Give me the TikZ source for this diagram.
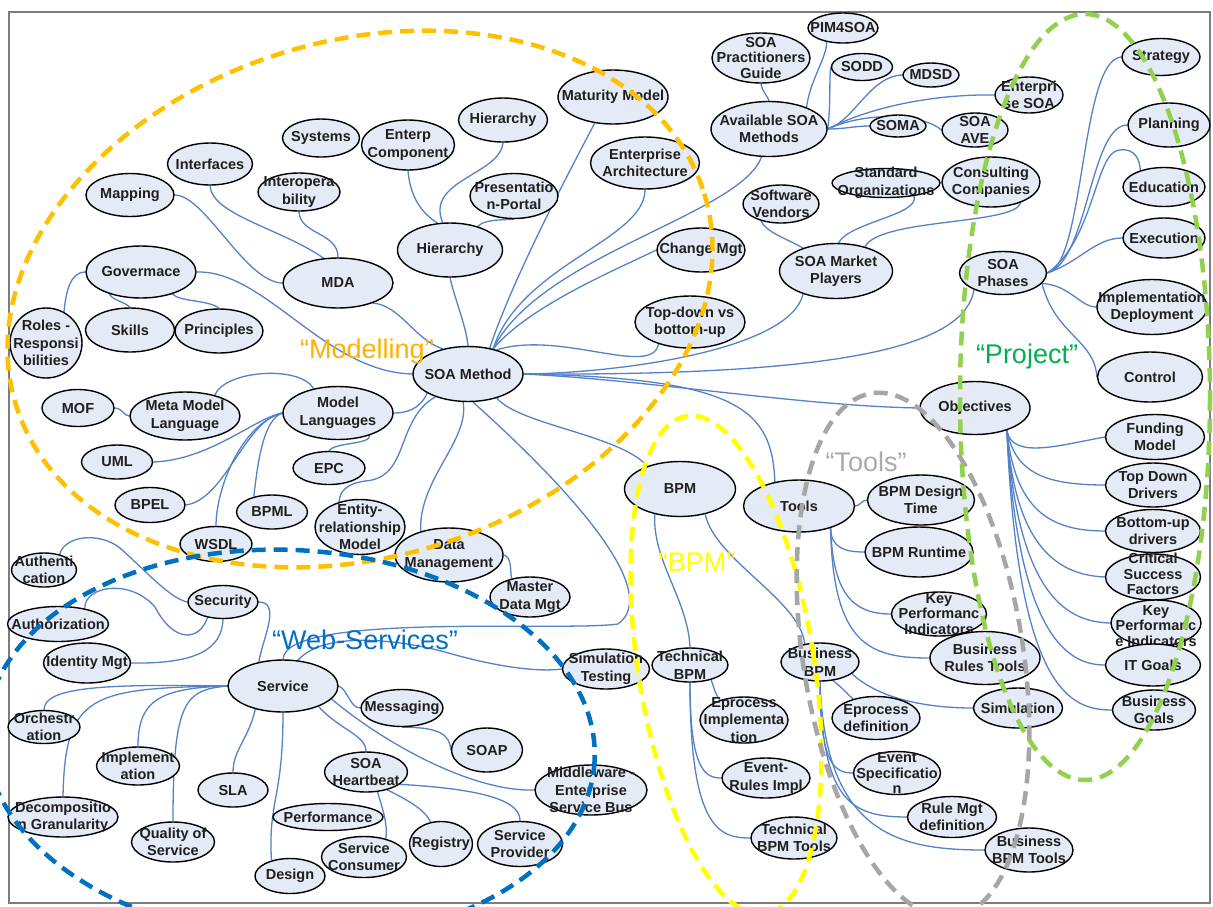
\documentclass[tikz,border=0pt]{standalone}
\usepackage{fontspec}
\setmainfont{Liberation Sans}
\usetikzlibrary{shapes.geometric}
\definecolor{bubblefill}{RGB}{228,235,246}
\definecolor{connblue}{RGB}{84,130,200}
\definecolor{zoneorange}{RGB}{255,192,0}
\definecolor{zoneblue}{RGB}{0,112,192}
\definecolor{zoneyellow}{RGB}{255,255,0}
\definecolor{zonegray}{RGB}{166,166,166}
\definecolor{zonegreen}{RGB}{146,208,80}
\definecolor{labelorange}{RGB}{255,176,0}
\definecolor{labelgreen}{RGB}{0,176,80}
\definecolor{labelgray}{RGB}{170,170,175}
\definecolor{framegray}{RGB}{125,125,125}
\pgfdeclarelayer{framelayer}
\pgfdeclarelayer{connlayer}
\pgfsetlayers{framelayer,connlayer,main}
% one topic: ellipse with fixed size, text set on top of it
\newcommand\bubble[6][]{%
  \node[bubble, minimum width=#4pt, minimum height=#5pt] (#2) at (#3) {};
  \node[bubtext,#1] (#2-t) at (#2.center) {#6};}
\begin{document}
\begin{tikzpicture}[x=1pt,y=-1pt,
  bubble/.style={ellipse, draw=black, line width=1.4pt, fill=bubblefill, inner sep=0pt},
  bubtext/.style={font=\bfseries\fontsize{14.5}{17.5}\selectfont, align=center, text=black!88, inner sep=0pt},
  tight/.style={font=\bfseries\fontsize{14.5}{15.5}\selectfont},
  conn/.style={draw=connblue, line width=1.3pt},
  zone/.style={line width=4.5pt, dash pattern=on 14pt off 8pt},
  zonelabel/.style={font=\fontsize{27}{30}\selectfont, inner sep=0pt},
  frameline/.style={draw=framegray, line width=2.5pt}]
\useasboundingbox (0,0) rectangle (1213,906);

\begin{pgfonlayer}{framelayer}
  \fill[white] (0,0) rectangle (1213,906);
  \draw[frameline] (9,12) rectangle (1210,903);
\end{pgfonlayer}

% ---------- modelling side ----------
\bubble{map}{130,195}{88}{43}{Mapping}
\bubble{intf}{210,164}{85}{42}{Interfaces}
\bubble{interop}{299,192}{82}{38}{Interopera\\bility}
\bubble{sys}{321,138}{77}{38}{Systems}
\bubble{entc}{408,145}{93}{50}{Enterp\\Component}
\bubble{hierA}{503,120}{89}{44}{Hierarchy}
\bubble{pres}{514,196}{88}{45}{Presentatio\\n-Portal}
\bubble{mat}{613,97}{110}{54}{Maturity Model}
\bubble{ea}{645,163}{109}{52}{Enterprise\\Architecture}
\bubble{hierB}{450,250}{105}{54}{Hierarchy}
\bubble{mda}{338,283}{110}{50}{MDA}
\bubble{chg}{701,250}{88}{44}{Change Mgt}
\bubble{topd}{690,322}{110}{52}{Top-down vs\\bottom-up}
\bubble{soam}{468,374}{110}{55}{SOA Method}
\bubble{gov}{141,272}{110}{52}{Govermace}
\bubble{roles}{46,343}{72}{70}{Roles -\\Responsi\\bilities}
\bubble{skills}{130,330}{89}{44}{Skills}
\bubble{princ}{219,331}{88}{44}{Principles}
\bubble{mof}{78,408}{72}{37}{MOF}
\bubble{meta}{185,416}{110}{48}{Meta Model\\Language}
\bubble{mlang}{338,413}{110}{53}{Model\\Languages}
\bubble{uml}{117,462}{71}{34}{UML}
\bubble{epc}{329,468}{72}{33}{EPC}
\bubble{bpel}{150,505}{70}{35}{BPEL}
\bubble{bpml}{272,512}{71}{34}{BPML}
\bubble{erm}{360,527}{90}{55}{Entity-\\relationship\\Model}
\bubble{wsdl}{216,544}{72}{35}{WSDL}
\bubble{dmgmt}{449,555}{108}{54}{Data\\Management}
\bubble{mdm}{530,597}{80}{40}{Master\\Data Mgt}

% ---------- web services ----------
\bubble{sec}{223,602}{70}{33}{Security}
\bubble{auth}{44,570}{65}{34}{Authenti\\cation}
\bubble{authz}{58,624}{101}{35}{Authorization}
\bubble{idm}{87,663}{87}{40}{Identity Mgt}
\bubble{serv}{283,686}{110}{52}{Service}
\bubble{orch}{44,727}{72}{33}{Orchestr\\ation}
\bubble{impl}{138,766}{83}{38}{Implement\\ation}
\bubble{sla}{233,790}{70}{34}{SLA}
\bubble{decomp}{63,817}{110}{40}{Decompositio\\n Granularity}
\bubble{qos}{173,842}{83}{40}{Quality of\\Service}
\bubble{hb}{366,772}{83}{40}{SOA\\Heartbeat}
\bubble{perf}{328,817}{110}{27}{Performance}
\bubble{design}{290,876}{70}{35}{Design}
\bubble{scons}{364,857}{85}{41}{Service\\Consumer}
\bubble{msg}{402,708}{82}{37}{Messaging}
\bubble{soap}{487,750}{71}{44}{SOAP}
\bubble{esb}{591,790}{112}{50}{Middleware -\\Enterprise\\Service Bus}
\bubble{reg}{441,844}{63}{45}{Registry}
\bubble{sprov}{520,844}{85}{45}{Service\\Provider}
\bubble{simt}{606,669}{87}{40}{Simulation\\Testing}

% ---------- BPM and tools ----------
\bubble{bpm}{680,489}{111}{55}{BPM}
\bubble{tbpm}{690,665}{76}{34}{Technical\\BPM}
\bubble{eimpl}{744,720}{88}{46}{Eprocess\\Implementa\\tion}
\bubble{erules}{766,778}{88}{40}{Event-\\Rules Impl}
\bubble{tbpmt}{794,838}{86}{42}{Technical\\BPM Tools}
\bubble{bbpm}{820,662}{78}{38}{Business\\BPM}
\bubble{tools}{799,506}{111}{52}{Tools}
\bubble{bdt}{921,500}{107}{50}{BPM Design\\Time}
\bubble{brt}{919,552}{108}{50}{BPM Runtime}
\bubble[tight]{kpiA}{939,614}{95}{44}{Key\\Performanc\\Indicators}
\bubble{brules}{985,658}{110}{53}{Business\\Rules Tools}
\bubble{sim}{1018,708}{89}{40}{Simulation}
\bubble{edef}{876,718}{88}{43}{Eprocess\\definition}
\bubble[tight]{espec}{897,773}{87}{43}{Event\\Specificatio\\n}
\bubble{rmgt}{952,817}{89}{41}{Rule Mgt\\definition}
\bubble{bbpmt}{1029,850}{88}{44}{Business\\BPM Tools}

% ---------- project side ----------
\bubble{obj}{975,408}{110}{53}{Objectives}
\bubble{ctrl}{1150,377}{105}{50}{Control}
\bubble{impd}{1152,307}{110}{55}{Implementation\\Deployment}
\bubble{fund}{1155,437}{99}{45}{Funding\\Model}
\bubble{tdd}{1153,485}{95}{44}{Top Down\\Drivers}
\bubble[tight,yshift=3pt]{csf}{1153,577}{95}{46}{Critical\\Success\\Factors}
\bubble{bud}{1153,531}{95}{43}{Bottom-up\\drivers}
\bubble[tight,yshift=-3pt]{kpiB}{1156,623}{90}{46}{Key\\Performanc\\e Indicators}
\bubble{itg}{1153,665}{95}{42}{IT Goals}
\bubble{bg}{1154,710}{83}{40}{Business\\Goals}
\bubble{phases}{1003,273}{87}{43}{SOA\\Phases}
\bubble{strat}{1161,57}{78}{37}{Strategy}
\bubble{plan}{1169,125}{82}{44}{Planning}
\bubble{edu}{1164,187}{82}{39}{Education}
\bubble{exec}{1164,238}{82}{40}{Execution}

% ---------- methods and market ----------
\bubble{pim}{843,28}{70}{30}{PIM4SOA}
\bubble[tight]{pract}{761,58}{98}{50}{SOA\\Practitioners\\Guide}
\bubble{sodd}{862,67}{61}{27}{SODD}
\bubble{mdsd}{931,75}{56}{24}{MDSD}
\bubble{esoa}{1029,95}{68}{36}{Enterpri\\se SOA}
\bubble{soma}{898,126}{56}{22}{SOMA}
\bubble{ave}{975,130}{66}{34}{SOA\\AVE}
\bubble{asm}{769,129}{116}{55}{Available SOA\\Methods}
\bubble{sv}{781,204}{76}{38}{Software\\Vendors}
\bubble{std}{886,183}{108}{29}{Standard\\Organizations}
\bubble{cons}{991,182}{98}{50}{Consulting\\Companies}
\bubble{mkt}{836,271}{113}{55}{SOA Market\\Players}

% ---------- connectors ----------
\begin{pgfonlayer}{connlayer}
  \coordinate (loopA) at (618,624);
  \coordinate (simtA) at (445,652);
  \coordinate (authA) at (120,548);
  \coordinate (authzA) at (155,607);
  \coordinate (eduA) at (1120,150);
  \coordinate (ermA) at (365,481);

  \draw[conn] (map.east) .. controls (205,195) and (245,282) .. (mda.west);
  \draw[conn] (intf.south) .. controls (212,215) and (280,228) .. (mda.120);
  \draw[conn] (interop.south) .. controls (300,235) and (338,232) .. (mda.north);
  \draw[conn] (gov.west) .. controls (70,272) and (66,292) .. (roles.60);
  \draw[conn] (gov.215) .. controls (112,300) and (125,302) .. (skills.north);
  \draw[conn] (gov.325) .. controls (180,302) and (210,300) .. (princ.north);
  \draw[conn] (gov.east) .. controls (265,270) and (325,372) .. (soam.west);
  \draw[conn] (mda.-30) .. controls (400,305) and (415,340) .. (soam.135);
  \draw[conn] (hierB.south) .. controls (455,300) and (466,325) .. (soam.north);
  \draw[conn] (entc.south) .. controls (410,195) and (420,212) .. (hierB.115);
  \draw[conn] (hierA.south) .. controls (500,175) and (425,180) .. (hierB.105);
  \draw[conn] (pres.south) .. controls (498,220) and (483,220) .. (hierB.40);
  \draw[conn] (mat.235) .. controls (570,170) and (512,280) .. (soam.50);
  \draw[conn] (ea.south) .. controls (645,240) and (520,265) .. (soam.45);
  \draw[conn] (asm.255) .. controls (740,215) and (540,255) .. (soam.45);
  \draw[conn] (chg.west) .. controls (620,268) and (530,305) .. (soam.45);
  \draw[conn] (topd.215) .. controls (652,378) and (560,330) .. (soam.40);
  \draw[conn] (mkt.215) .. controls (790,350) and (620,373) .. (soam.east);
  \draw[conn] (soam.east) .. controls (850,376) and (965,345) .. (phases.210);
  \draw[conn] (soam.east) .. controls (740,378) and (772,410) .. (tools.135);
  \draw[conn] (soam.east) .. controls (650,380) and (800,406) .. (obj.west);
  \draw[conn] (soam.-40) .. controls (520,425) and (620,435) .. (bpm.145);
  \draw[conn] (soam.-80) .. controls (560,480) and (665,590) .. (loopA)
              .. controls (560,632) and (285,612) .. (serv.north);
  \draw[conn] (soam.205) .. controls (420,410) and (405,413) .. (mlang.east);
  \draw[conn] (soam.215) .. controls (395,420) and (410,478) .. (ermA)
              .. controls (345,484) and (340,492) .. (erm.130);
  \draw[conn] (soam.-100) .. controls (470,440) and (418,480) .. (dmgmt.140);
  \draw[conn] (dmgmt.east) .. controls (512,557) and (510,570) .. (mdm.135);

  \draw[conn] (mof.east) .. controls (122,408) and (124,416) .. (meta.west);
  \draw[conn] (meta.35) .. controls (225,370) and (300,365) .. (mlang.135);
  \draw[conn] (mlang.west) .. controls (255,418) and (210,460) .. (uml.east);
  \draw[conn] (mlang.west) .. controls (245,420) and (225,500) .. (bpel.east);
  \draw[conn] (mlang.west) .. controls (240,425) and (216,490) .. (wsdl.north);
  \draw[conn] (mlang.west) .. controls (262,420) and (257,470) .. (bpml.140);
  \draw[conn] (mlang.-35) .. controls (370,445) and (335,442) .. (epc.north);

  \draw[conn] (sec.east) .. controls (282,602) and (262,640) .. (serv.135);
  \draw[conn] (auth.45) .. controls (65,535) and (100,532) .. (authA)
              .. controls (150,575) and (170,598) .. (sec.west);
  \draw[conn] (authz.30) .. controls (84,586) and (130,578) .. (authzA)
              .. controls (175,645) and (200,640) .. (sec.225);
  \draw[conn] (idm.east) .. controls (195,664) and (222,650) .. (sec.south);
  \draw[conn] (serv.west) .. controls (110,684) and (44,686) .. (orch.north);
  \draw[conn] (serv.west) .. controls (90,688) and (65,695) .. (decomp.north);
  \draw[conn] (serv.west) .. controls (160,688) and (138,700) .. (impl.north);
  \draw[conn] (serv.west) .. controls (185,690) and (173,700) .. (qos.north);
  \draw[conn] (serv.220) .. controls (248,740) and (233,750) .. (sla.north);
  \draw[conn] (serv.south) .. controls (283,800) and (268,800) .. (design.140);
  \draw[conn] (serv.-30) .. controls (340,730) and (366,735) .. (hb.north);
  \draw[conn] (serv.east) .. controls (348,690) and (350,708) .. (msg.west);
  \draw[conn] (msg.south) .. controls (440,727) and (450,735) .. (soap.west);
  \draw[conn] (serv.-15) .. controls (380,740) and (470,792) .. (esb.west);
  \draw[conn] (serv.60) .. controls (325,630) and (400,640) .. (simtA)
              .. controls (500,668) and (540,672) .. (simt.west);
  \draw[conn] (hb.-60) .. controls (383,810) and (388,825) .. (scons.40);
  \draw[conn] (hb.-40) .. controls (408,800) and (425,810) .. (reg.115);
  \draw[conn] (hb.-20) .. controls (500,790) and (520,805) .. (sprov.north);

  \draw[conn] (bpm.225) .. controls (652,560) and (688,600) .. (tbpm.north);
  \draw[conn] (bpm.-45) .. controls (715,560) and (800,600) .. (bbpm.130);
  \draw[conn] (tools.east) .. controls (860,506) and (862,500) .. (bdt.west);
  \draw[conn] (tools.-35) .. controls (831,548) and (845,552) .. (brt.west);
  \draw[conn] (tools.-35) .. controls (833,590) and (850,614) .. (kpiA.west);
  \draw[conn] (tools.-35) .. controls (833,645) and (870,658) .. (brules.west);
  \draw[conn] (bbpm.-20) .. controls (880,700) and (930,708) .. (sim.west);
  \draw[conn] (bbpm.-55) .. controls (845,690) and (850,697) .. (edef.140);
  \draw[conn] (bbpm.south) .. controls (820,765) and (835,773) .. (espec.west);
  \draw[conn] (bbpm.south) .. controls (822,800) and (850,817) .. (rmgt.west);
  \draw[conn] (bbpm.south) .. controls (825,835) and (900,850) .. (bbpmt.west);
  \draw[conn] (tbpm.-35) .. controls (714,688) and (716,696) .. (eimpl.140);
  \draw[conn] (tbpm.south) .. controls (690,770) and (705,778) .. (erules.west);
  \draw[conn] (tbpm.south) .. controls (690,830) and (720,838) .. (tbpmt.west);

  \draw[conn] (pract.south) .. controls (762,92) and (768,96) .. (asm.north);
  \draw[conn] (asm.30) .. controls (810,80) and (828,55) .. (pim.220);
  \draw[conn] (asm.east) .. controls (831,105) and (829,75) .. (sodd.west);
  \draw[conn] (asm.east) .. controls (855,120) and (870,76) .. (mdsd.west);
  \draw[conn] (asm.east) .. controls (880,102) and (950,94) .. (esoa.west);
  \draw[conn] (asm.east) .. controls (845,129) and (855,126) .. (soma.west);
  \draw[conn] (asm.east) .. controls (870,110) and (925,115) .. (ave.west);
  \draw[conn] (sv.220) .. controls (766,232) and (785,238) .. (mkt.145);
  \draw[conn] (std.-25) .. controls (920,215) and (850,222) .. (mkt.85);
  \draw[conn] (cons.-35) .. controls (1016,225) and (880,218) .. (mkt.40);

  \draw[conn] (phases.east) .. controls (1085,265) and (1080,60) .. (strat.west);
  \draw[conn] (phases.east) .. controls (1088,262) and (1090,125) .. (plan.west);
  \draw[conn] (phases.east) .. controls (1095,240) and (1095,150) .. (eduA)
              .. controls (1135,148) and (1140,160) .. (edu.145);
  \draw[conn] (phases.east) .. controls (1080,262) and (1095,238) .. (exec.west);
  \draw[conn] (phases.-15) .. controls (1070,285) and (1080,307) .. (impd.west);
  \draw[conn] (phases.-15) .. controls (1055,335) and (1095,340) .. (ctrl.west);

  \draw[conn] (obj.-35) .. controls (1012,460) and (1060,445) .. (fund.west);
  \draw[conn] (obj.-35) .. controls (1015,470) and (1040,485) .. (tdd.west);
  \draw[conn] (obj.-35) .. controls (1015,510) and (1050,531) .. (bud.west);
  \draw[conn] (obj.-35) .. controls (1015,550) and (1060,575) .. (csf.west);
  \draw[conn] (obj.-35) .. controls (1018,600) and (1070,622) .. (kpiB.west);
  \draw[conn] (obj.-35) .. controls (1018,640) and (1070,665) .. (itg.west);
  \draw[conn] (obj.-35) .. controls (1018,690) and (1070,710) .. (bg.west);
\end{pgfonlayer}

% ---------- dashed groupings ----------
\draw[zone, draw=zoneorange, rotate around={17:(360,299)}] (360,299) ellipse [x radius=360, y radius=258];
\draw[zone, draw=zoneblue, rotate around={-3:(290,745)}] (290,745) ellipse [x radius=305, y radius=195];
\draw[zone, draw=zoneyellow, rotate around={9:(726,665)}] (726,665) ellipse [x radius=88, y radius=252];
\draw[zone, draw=zonegray, rotate around={9:(913,655)}] (913,655) ellipse [x radius=110, y radius=265];
\draw[zone, draw=zonegreen] (1085,397) ellipse [x radius=125, y radius=383];

\node[zonelabel, text=labelorange] (lblModel) at (367,352) {“Modelling”};
\node[zonelabel, text=labelgreen] (lblProject) at (1027,357) {“Project”};
\node[zonelabel, text=labelgray] (lblTools) at (866,462) {“Tools”};
\node[zonelabel, text=zoneyellow] (lblBPM) at (697,562) {“BPM”};
\node[zonelabel, text=zoneblue] (lblWeb) at (365,640) {“Web-Services”};
\end{tikzpicture}
\end{document}
